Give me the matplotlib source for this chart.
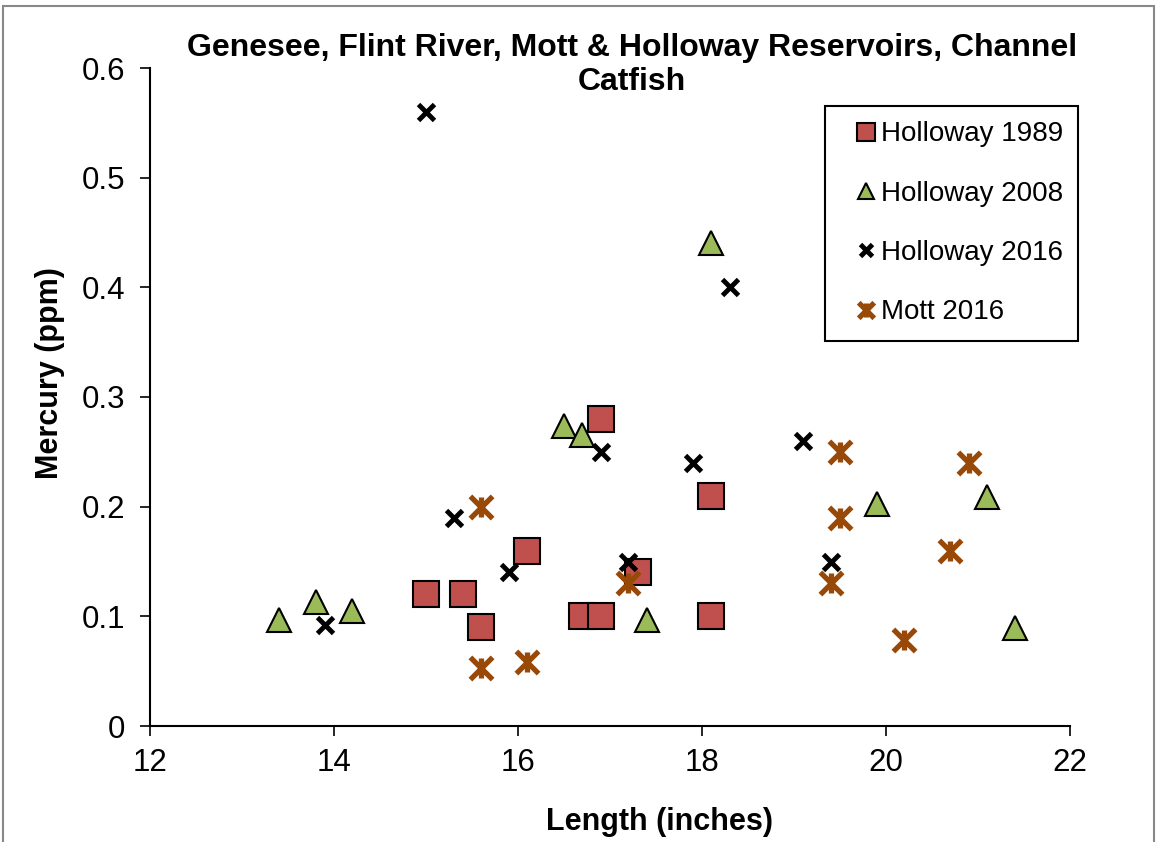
import matplotlib
matplotlib.use("Agg")
import matplotlib.pyplot as plt
from matplotlib.path import Path
from matplotlib.patches import Rectangle

plt.rcParams['font.family'] = ['Liberation Sans', 'DejaVu Sans']

# Holloway 1989
len_1989 = [15.0, 15.4, 15.6, 16.1, 16.7, 16.9, 17.3, 16.9, 18.1, 18.1]
hg_1989 = [0.12, 0.12, 0.09, 0.16, 0.10, 0.10, 0.14, 0.28, 0.21, 0.10]

# Holloway 2008
len_2008 = [13.4, 13.8, 14.2, 16.5, 16.7, 17.4, 18.1, 19.9, 21.1, 21.4]
hg_2008 = [0.097, 0.113, 0.105, 0.274, 0.265, 0.097, 0.44, 0.202, 0.209, 0.089]

# Holloway 2016
len_2016 = [15.0, 13.9, 15.3, 15.9, 16.9, 17.2, 17.9, 18.3, 19.1, 19.4]
hg_2016 = [0.56, 0.092, 0.19, 0.14, 0.25, 0.15, 0.24, 0.40, 0.26, 0.15]

# Mott 2016
len_mott = [15.6, 15.6, 16.1, 17.2, 19.5, 19.5, 19.4, 20.2, 20.7, 20.9]
hg_mott = [0.20, 0.053, 0.058, 0.13, 0.25, 0.19, 0.13, 0.078, 0.16, 0.24]

x_ticks = [12, 14, 16, 18, 20, 22]
y_ticks = [0, 0.1, 0.2, 0.3, 0.4, 0.5, 0.6]
y_labels = ['0', '0.1', '0.2', '0.3', '0.4', '0.5', '0.6']

# excel style star: x with a vertical bar
star = Path([(-1, -1), (1, 1), (-1, 1), (1, -1), (0, -0.9), (0, 0.9)],
            [Path.MOVETO, Path.LINETO, Path.MOVETO, Path.LINETO, Path.MOVETO, Path.LINETO])

fig = plt.figure(figsize=(11.56, 8.42), dpi=100)
ax = fig.add_axes([150/1156, 116/842, 920/1156, 658/842])

ax.plot(len_1989, hg_1989, 's', ms=19, mfc='#C0504D', mec='black', mew=1.5, label='Holloway 1989')
ax.plot(len_2008, hg_2008, '^', ms=17, mfc='#9BBB59', mec='black', mew=1.5, label='Holloway 2008')
ax.plot(len_2016, hg_2016, 'x', ms=12, mec='black', mew=3.5, label='Holloway 2016')
ax.plot(len_mott, hg_mott, marker=star, ls='none', ms=16, mec='#984807', mew=3.8, label='Mott 2016')

ax.set_xlim(12, 22)
ax.set_ylim(0, 0.6)
ax.set_xticks(x_ticks)
ax.set_yticks(y_ticks)
ax.set_yticklabels(y_labels)
ax.tick_params(direction='out', length=7, width=1.2, labelsize=22.5, pad=9)
ax.tick_params(axis='y', pad=11)
for s in ['top', 'right']:
    ax.spines[s].set_visible(False)
for s in ['left', 'bottom']:
    ax.spines[s].set_linewidth(1.5)

fig.text(632/1156, 1 - 65/842, 'Genesee, Flint River, Mott & Holloway Reservoirs, Channel\nCatfish',
         ha='center', va='center', fontsize=23, fontweight='bold', linespacing=1.15)
fig.text(50/1156, 1 - 373/842, 'Mercury (ppm)', rotation=90, ha='center', va='center',
         fontsize=22, fontweight='bold')
fig.text(660/1156, 1 - 822/842, 'Length (inches)', ha='center', va='center',
         fontsize=22, fontweight='bold')

leg = ax.legend(loc='upper left', bbox_to_anchor=(825/1156, 1 - 106/842), bbox_transform=fig.transFigure,
                borderaxespad=0, fontsize=20, markerscale=0.7, fancybox=False, framealpha=1,
                edgecolor='black', borderpad=0.55, handlelength=1.85, handletextpad=-0.4,
                labelspacing=1.2)
leg.get_frame().set_linewidth(1.5)

fig.patches.append(Rectangle((3/1156, -0.01), 1151/1156, 1 - 6/842 + 0.01, transform=fig.transFigure,
                             fill=False, edgecolor='#888888', linewidth=1.5))

fig.savefig('out.png', dpi=100)
